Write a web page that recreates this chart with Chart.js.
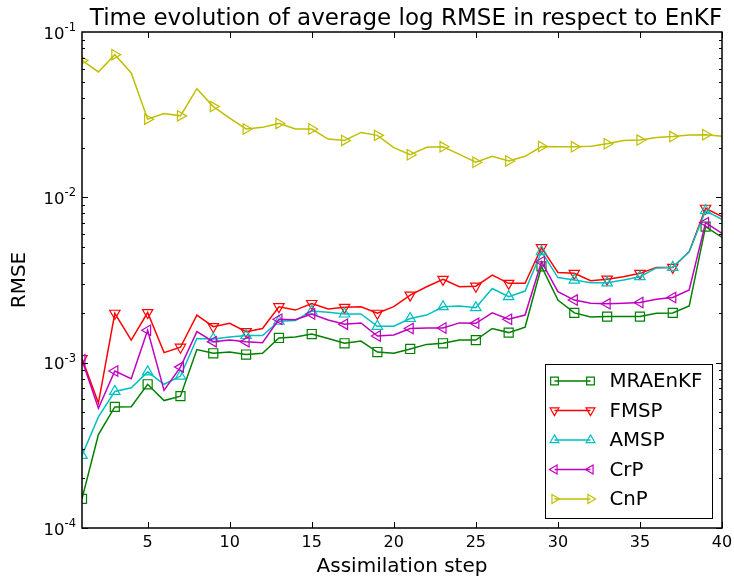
<!DOCTYPE html>
<html>
<head>
<meta charset="utf-8">
<script src="https://cdn.jsdelivr.net/npm/chart.js@4/dist/chart.umd.min.js"></script>
<style>
  body { margin: 0; background: #fff; }
  #wrap { width: 734px; height: 578px; }
</style>
</head>
<body>
<div id="wrap"><canvas id="rmse"></canvas></div>
<script>
var steps = [1, 2, 3, 4, 5, 6, 7, 8, 9, 10, 11, 12, 13, 14, 15, 16, 17, 18, 19, 20,
  21, 22, 23, 24, 25, 26, 27, 28, 29, 30, 31, 32, 33, 34, 35, 36, 37, 38, 39, 40];

var mraenkf = [1.50e-4, 3.67e-4, 5.40e-4, 5.42e-4, 7.40e-4, 5.90e-4, 6.27e-4, 1.20e-3, 1.14e-3, 1.16e-3,
  1.12e-3, 1.14e-3, 1.41e-3, 1.43e-3, 1.49e-3, 1.40e-3, 1.31e-3, 1.35e-3, 1.16e-3, 1.14e-3,
  1.21e-3, 1.29e-3, 1.31e-3, 1.37e-3, 1.37e-3, 1.61e-3, 1.52e-3, 1.64e-3, 3.82e-3, 2.39e-3,
  2.00e-3, 1.89e-3, 1.90e-3, 1.90e-3, 1.90e-3, 1.99e-3, 2.00e-3, 2.20e-3, 6.65e-3, 5.73e-3];
var fmsp = [1.06e-3, 5.70e-4, 1.99e-3, 1.37e-3, 2.01e-3, 1.15e-3, 1.24e-3, 1.94e-3, 1.65e-3, 1.73e-3,
  1.54e-3, 1.61e-3, 2.18e-3, 2.08e-3, 2.28e-3, 2.11e-3, 2.16e-3, 2.18e-3, 1.99e-3, 2.18e-3,
  2.56e-3, 2.88e-3, 3.19e-3, 2.88e-3, 2.90e-3, 3.39e-3, 3.02e-3, 3.02e-3, 4.96e-3, 3.51e-3,
  3.47e-3, 3.13e-3, 3.20e-3, 3.31e-3, 3.47e-3, 3.77e-3, 3.77e-3, 4.69e-3, 8.59e-3, 7.64e-3];
var amsp = [2.75e-4, 4.70e-4, 6.70e-4, 7.05e-4, 8.80e-4, 7.40e-4, 8.30e-4, 1.40e-3, 1.39e-3, 1.43e-3,
  1.46e-3, 1.46e-3, 1.78e-3, 1.80e-3, 2.05e-3, 2.02e-3, 1.97e-3, 1.97e-3, 1.66e-3, 1.66e-3,
  1.85e-3, 1.94e-3, 2.18e-3, 2.20e-3, 2.15e-3, 2.81e-3, 2.51e-3, 2.71e-3, 4.70e-3, 3.27e-3,
  3.16e-3, 3.04e-3, 3.04e-3, 3.16e-3, 3.31e-3, 3.74e-3, 3.77e-3, 4.69e-3, 8.30e-3, 7.36e-3];
var crp = [1.04e-3, 5.30e-4, 8.90e-4, 8.00e-4, 1.57e-3, 6.80e-4, 9.40e-4, 1.54e-3, 1.34e-3, 1.37e-3,
  1.34e-3, 1.32e-3, 1.83e-3, 1.82e-3, 1.97e-3, 1.81e-3, 1.71e-3, 1.74e-3, 1.45e-3, 1.47e-3,
  1.61e-3, 1.62e-3, 1.62e-3, 1.74e-3, 1.73e-3, 2.00e-3, 1.83e-3, 1.94e-3, 4.08e-3, 2.69e-3,
  2.39e-3, 2.29e-3, 2.27e-3, 2.29e-3, 2.31e-3, 2.42e-3, 2.48e-3, 2.75e-3, 7.03e-3, 6.05e-3];
var cnp = [0.0673, 0.0573, 0.0729, 0.0565, 0.0297, 0.0321, 0.0311, 0.0454, 0.0354, 0.0301,
  0.0259, 0.0265, 0.0280, 0.0259, 0.0259, 0.0225, 0.0221, 0.0247, 0.0237, 0.0200,
  0.0181, 0.0201, 0.0202, 0.0182, 0.0163, 0.0177, 0.0166, 0.0177, 0.0203, 0.0202,
  0.0202, 0.0204, 0.0211, 0.0221, 0.0222, 0.0230, 0.0233, 0.0238, 0.0239, 0.0234];

var names = ['MRAEnKF', 'FMSP', 'AMSP', 'CrP', 'CnP'];
var values = [mraenkf, fmsp, amsp, crp, cnp];
var colors = ['#008000', '#ff0000', '#00bfbf', '#bf00bf', '#bfbf00'];
var markers = ['rect', 'triangle', 'triangle', 'triangle', 'triangle'];
var rotations = [0, 180, 0, 270, 90];

var xTicks = [5, 10, 15, 20, 25, 30, 35, 40];
var yTicks = [1e-4, 1e-3, 1e-2, 1e-1];
var yExponents = ['-4', '-3', '-2', '-1'];

var font = '"DejaVu Sans", sans-serif';

function markerSize(i) {
  return markers[i] === 'rect' ? 6.4 : 6;
}

function drawMarker(ctx, style, rot, r, x, y) {
  ctx.beginPath();
  if (style === 'rect') {
    var s = r * Math.SQRT1_2;
    ctx.rect(x - s, y - s, 2 * s, 2 * s);
  } else {
    var rad = rot * Math.PI / 180;
    for (var j = 0; j < 3; j++) {
      var ang = rad + j * 2 * Math.PI / 3;
      var px = x + Math.sin(ang) * r, py = y - Math.cos(ang) * r;
      if (j === 0) ctx.moveTo(px, py); else ctx.lineTo(px, py);
    }
    ctx.closePath();
  }
  ctx.stroke();
}

// frame, inward ticks, y labels with superscript, title and legend box
var frame = {
  id: 'frame',
  afterDraw: function (chart) {
    var ctx = chart.ctx, a = chart.chartArea;
    var xs = chart.scales.x, ys = chart.scales.y;
    ctx.save();
    ctx.strokeStyle = '#000';
    ctx.lineWidth = 1;
    ctx.beginPath();
    xTicks.forEach(function (v) {
      var px = Math.round(xs.getPixelForValue(v)) + 0.5;
      ctx.moveTo(px, a.bottom); ctx.lineTo(px, a.bottom - 6);
      ctx.moveTo(px, a.top); ctx.lineTo(px, a.top + 6);
    });
    for (var d = -4; d <= -2; d++) {
      for (var k = 1; k <= 9; k++) {
        var py = Math.round(ys.getPixelForValue(k * Math.pow(10, d))) + 0.5;
        var len = k === 1 ? 6 : 3;
        ctx.moveTo(a.left, py); ctx.lineTo(a.left + len, py);
        ctx.moveTo(a.right, py); ctx.lineTo(a.right - len, py);
      }
    }
    ctx.stroke();
    ctx.lineWidth = 1.5;
    ctx.strokeRect(a.left, a.top, a.right - a.left, a.bottom - a.top);

    // y tick labels: 10 with exponent
    ctx.fillStyle = '#000';
    ctx.textBaseline = 'alphabetic';
    yTicks.forEach(function (v, i) {
      var py = ys.getPixelForValue(v);
      ctx.font = '11.5px ' + font;
      var ew = ctx.measureText(yExponents[i]).width;
      ctx.textAlign = 'right';
      ctx.fillText(yExponents[i], a.left - 6, py - 1);
      ctx.font = '16.5px ' + font;
      ctx.fillText('10', a.left - 6 - ew, py + 6.5);
    });

    ctx.font = '23px ' + font;
    ctx.textAlign = 'center';
    ctx.fillText('Time evolution of average log RMSE in respect to EnKF', (a.left + a.right) / 2 + 4, 25);

    // legend
    var bw = 167, bh = 154;
    var bx = a.right - 10.5 - bw, by = a.bottom - 10 - bh;
    ctx.fillStyle = '#fff';
    ctx.fillRect(bx, by, bw, bh);
    ctx.lineWidth = 1;
    ctx.strokeStyle = '#000';
    ctx.strokeRect(Math.round(bx) + 0.5, Math.round(by) + 0.5, bw, bh);
    ctx.font = '19.8px ' + font;
    ctx.textAlign = 'left';
    ctx.textBaseline = 'middle';
    chart.data.datasets.forEach(function (ds, i) {
      var ly = by + 17 + i * 29.5;
      ctx.strokeStyle = colors[i];
      ctx.lineWidth = 1.5;
      ctx.beginPath();
      ctx.moveTo(bx + 10, ly); ctx.lineTo(bx + 46, ly);
      ctx.stroke();
      ctx.lineWidth = 1.2;
      drawMarker(ctx, markers[i], rotations[i], markerSize(i) * 0.85, bx + 10, ly);
      drawMarker(ctx, markers[i], rotations[i], markerSize(i) * 0.85, bx + 46, ly);
      ctx.fillStyle = '#000';
      ctx.fillText(ds.label, bx + 65, ly + 1);
    });
    ctx.restore();
  }
};

var datasets = names.map(function (name, i) {
  return {
    label: name,
    data: values[i],
    borderColor: colors[i],
    backgroundColor: colors[i],
    borderWidth: 1.5,
    pointStyle: markers[i],
    pointRotation: rotations[i],
    pointBackgroundColor: 'rgba(255,255,255,0)',
    pointBorderColor: colors[i],
    pointBorderWidth: 1.2,
    pointRadius: function (c) { return c.dataIndex % 2 === 0 ? markerSize(i) : 0; },
    tension: 0,
    clip: 0,
    order: names.length - i
  };
});

new Chart('rmse', {
  type: 'line',
  data: { labels: steps, datasets: datasets },
  options: {
    responsive: true,
    maintainAspectRatio: false,
    animation: false,
    events: [],
    layout: { padding: { top: 32, right: 12, left: 0, bottom: 0 } },
    plugins: {
      legend: { display: false },
      title: { display: false },
      tooltip: { enabled: false }
    },
    scales: {
      x: {
        type: 'linear',
        min: 1,
        max: 40,
        grid: { display: false },
        border: { display: false },
        afterBuildTicks: function (s) { s.ticks = xTicks.map(function (v) { return { value: v }; }); },
        afterFit: function (s) { s.height = 50; },
        ticks: {
          autoSkip: false,
          maxRotation: 0,
          padding: -3,
          color: '#000',
          font: { family: font, size: 16 }
        },
        title: {
          display: true,
          text: 'Assimilation step',
          color: '#000',
          font: { family: font, size: 20 },
          padding: { top: 0, bottom: -1 }
        }
      },
      y: {
        type: 'logarithmic',
        min: 1e-4,
        max: 1e-1,
        grid: { display: false },
        border: { display: false },
        afterBuildTicks: function (s) { s.ticks = yTicks.map(function (v) { return { value: v }; }); },
        afterFit: function (s) { s.width = 82; },
        ticks: {
          autoSkip: false,
          padding: 6,
          color: '#000',
          font: { family: font, size: 16 },
          callback: function () { return ''; }
        },
        title: {
          display: true,
          text: 'RMSE',
          color: '#000',
          font: { family: font, size: 20 },
          padding: { top: 8, bottom: 0 }
        }
      }
    }
  },
  plugins: [frame]
});
</script>
</body>
</html>
